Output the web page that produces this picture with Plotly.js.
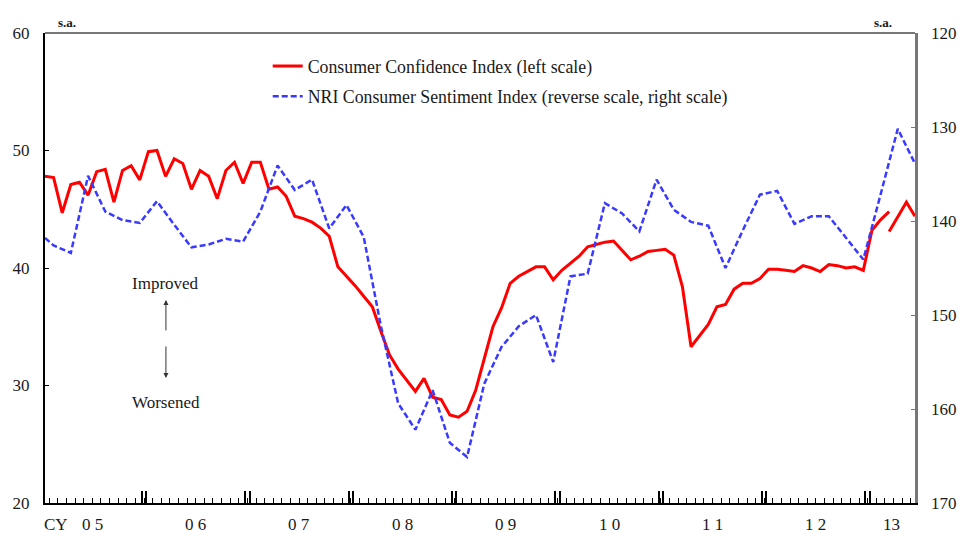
<!DOCTYPE html>
<html>
<head>
<meta charset="utf-8">
<script src="https://cdn.plot.ly/plotly-3.0.1.min.js"></script>
<style>html,body{margin:0;padding:0;background:#fff;}#chart{width:961px;height:533px;}</style>
</head>
<body>
<div id="chart"></div>
<script>
// Month index: 0 = Jan 2005
// Consumer Confidence Index (left scale), old survey method, months 0..98
var ccOld = [47.8,47.7,44.7,47.1,47.3,46.2,48.2,48.4,45.6,48.3,48.7,47.5,
             49.9,50.0,47.8,49.3,48.9,46.7,48.3,47.8,45.9,48.3,49.0,47.2,
             49.0,49.0,46.7,46.9,46.1,44.4,44.2,43.9,43.4,42.7,40.1,39.3,
             38.5,37.6,36.7,34.6,32.6,31.4,30.4,29.5,30.6,29.0,28.8,27.5,
             27.3,27.8,29.6,32.2,35.0,36.6,38.7,39.3,39.7,40.1,40.1,39.0,
             39.8,40.4,41.0,41.8,42.0,42.2,42.3,41.5,40.7,41.0,41.4,41.5,
             41.6,41.1,38.4,33.3,34.2,35.2,36.7,36.9,38.2,38.7,38.7,39.1,
             39.9,39.9,39.8,39.7,40.2,40.0,39.7,40.3,40.2,40.0,40.1,39.8,
             43.2,44.1,44.8];
// Consumer Confidence Index, new survey method
var ccNewMonths = [98,99,100,101];
var ccNew = [43.1,44.4,45.6,44.4];
// NRI Consumer Sentiment Index (reverse, right scale)
var nriMonths = [0,1,3,5,7,9,11,13,15,17,19,21,23,25,27,29,31,33,35,37,39,41,43,45,47,49,
                 51,53,55,57,59,61,63,65,67,69,71,73,75,77,79,81,83,85,87,89,91,93,95,97,99,101];
var nriValues = [141.8,142.6,143.4,135.2,139.0,139.9,140.2,137.9,140.4,142.8,142.5,141.9,142.2,139.0,
                 134.1,136.7,135.6,140.8,138.3,141.7,151.2,159.4,162.2,158.0,163.6,165.1,
                 157.3,153.4,151.2,150.0,155.0,145.9,145.6,138.1,139.2,141.1,135.6,138.8,140.1,140.5,
                 145.0,141.0,137.2,136.8,140.3,139.5,139.5,141.8,144.1,137.2,130.2,133.9];
var yearLabels = ['0 5','0 6','0 7','0 8','0 9','1 0','1 1','1 2','13'];
var leftTicks = [20,30,40,50,60];
var rightTicks = [120,130,140,150,160,170];

var lastMonth = 101;
var ccOldMonths = ccOld.map(function(_, i){ return i; });

var serif = 'Liberation Serif, Times New Roman, serif';
var txt = '#1a1a1a';

var traces = [
  {x: ccOldMonths, y: ccOld, type: 'scatter', mode: 'lines', name: 'Consumer Confidence Index (left scale)',
   line: {color: '#ff0000', width: 3}, legendgroup: 'a', yaxis: 'y'},
  {x: ccNewMonths, y: ccNew, type: 'scatter', mode: 'lines', showlegend: false,
   line: {color: '#ff0000', width: 3}, legendgroup: 'a', yaxis: 'y'},
  {x: nriMonths, y: nriValues, type: 'scatter', mode: 'lines', name: 'NRI Consumer Sentiment Index (reverse scale, right scale)',
   line: {color: '#3a3aff', width: 2.5, dash: '6px,3px'}, legendgroup: 'b', yaxis: 'y2'}
];

// year boundary ticks (double bars) and label positions
var boundTicks = [];
var annotations = [];
yearLabels.forEach(function(lbl, k){
  var start = 12*k - 0.5, end = Math.min(12*k + 11.5, lastMonth);
  if (k > 0) { boundTicks.push(start - 0.25); boundTicks.push(start + 0.25); }
  annotations.push({x: (start + end)/2, y: -0.045, xref: 'x', yref: 'paper', text: lbl, showarrow: false,
    font: {family: serif, size: 17, color: txt}, xanchor: 'center', yanchor: 'middle'});
});
annotations.push({x: -0.004, y: -0.045, xref: 'paper', yref: 'paper', text: 'CY', showarrow: false,
  font: {family: serif, size: 17, color: txt}, xanchor: 'left', yanchor: 'middle'});
annotations.push({x: 0.025, y: 1.023, xref: 'paper', yref: 'paper', text: '<b>s.a.</b>', showarrow: false,
  font: {family: serif, size: 13, color: txt}, xanchor: 'center', yanchor: 'middle'});
annotations.push({x: 0.963, y: 1.023, xref: 'paper', yref: 'paper', text: '<b>s.a.</b>', showarrow: false,
  font: {family: serif, size: 13, color: txt}, xanchor: 'center', yanchor: 'middle'});
annotations.push({x: 0.139, y: 0.468, xref: 'paper', yref: 'paper', text: 'Improved', showarrow: false,
  font: {family: serif, size: 17, color: txt}, xanchor: 'center', yanchor: 'middle'});
annotations.push({x: 0.139, y: 0.213, xref: 'paper', yref: 'paper', text: 'Worsened', showarrow: false,
  font: {family: serif, size: 17, color: txt}, xanchor: 'center', yanchor: 'middle'});
annotations.push({x: 0.139, y: 0.432, xref: 'paper', yref: 'paper', text: '', showarrow: true,
  ax: 0, ay: 32, arrowhead: 2, arrowsize: 1, arrowwidth: 1, arrowcolor: '#333'});
annotations.push({x: 0.139, y: 0.266, xref: 'paper', yref: 'paper', text: '', showarrow: true,
  ax: 0, ay: -33, arrowhead: 2, arrowsize: 1, arrowwidth: 1, arrowcolor: '#333'});

var layout = {
  width: 961, height: 533,
  margin: {l: 45, r: 46, t: 33, b: 30},
  paper_bgcolor: '#fff', plot_bgcolor: '#fff',
  font: {family: serif, size: 17, color: txt},
  showlegend: true,
  legend: {x: 0.256, y: 0.968, xanchor: 'left', yanchor: 'top', bgcolor: 'rgba(0,0,0,0)',
           font: {family: serif, size: 17.8, color: txt}, traceorder: 'grouped', tracegroupgap: 4},
  xaxis: {range: [0, lastMonth], showgrid: false, zeroline: false, showline: true, linecolor: '#000', linewidth: 1.5,
          tickmode: 'array', tickvals: boundTicks, ticktext: boundTicks.map(function(){return '';}),
          ticks: 'inside', ticklen: 12, tickwidth: 2, tickcolor: '#000',
          minor: {tickmode: 'linear', tick0: 0.5, dtick: 1, ticks: 'inside', ticklen: 5, tickwidth: 1, tickcolor: '#000'}},
  yaxis: {range: [20, 60], tickmode: 'array', tickvals: leftTicks, showgrid: false, zeroline: false,
          showline: true, linecolor: '#000', linewidth: 2, ticks: 'inside', ticklen: 4, tickcolor: '#000',
          ticklabelstandoff: 10, tickfont: {family: serif, size: 17, color: txt}},
  yaxis2: {range: [170, 120], overlaying: 'y', side: 'right', tickmode: 'array', tickvals: rightTicks,
           showgrid: false, zeroline: false, showline: true, linecolor: '#777', linewidth: 2.5,
           ticks: 'inside', ticklen: 4, tickcolor: '#777', ticklabelstandoff: 10,
           tickfont: {family: serif, size: 17, color: txt}},
  shapes: [{type: 'line', xref: 'paper', yref: 'paper', x0: 0, x1: 1, y0: 1, y1: 1,
            line: {color: '#777', width: 2}}],
  annotations: annotations
};

Plotly.newPlot('chart', traces, layout, {displayModeBar: false, staticPlot: true});
</script>
</body>
</html>
